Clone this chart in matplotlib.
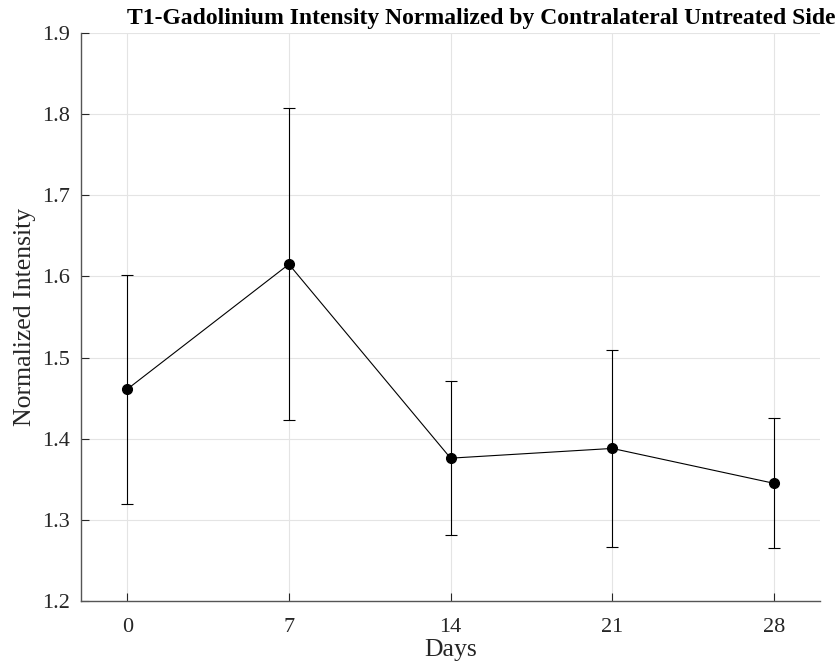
import matplotlib.pyplot as plt

days = [0, 7, 14, 21, 28]
intensity = [1.461, 1.615, 1.376, 1.388, 1.345]
err = [0.141, 0.192, 0.095, 0.121, 0.080]

plt.rcParams['font.family'] = ['Liberation Serif', 'DejaVu Serif']

fig = plt.figure(figsize=(8.38, 6.67), dpi=100)
ax = fig.add_axes([0.0967, 0.099, 0.882, 0.8515])

ax.errorbar(days, intensity, yerr=err, color='black', lw=0.8, marker='o',
            markersize=7, capsize=4, elinewidth=0.8, capthick=0.8, zorder=5)

ax.set_xlim(-2, 30)
ax.set_ylim(1.2, 1.9)
ax.set_xticks(days)
ax.set_yticks([1.2, 1.3, 1.4, 1.5, 1.6, 1.7, 1.8, 1.9])
ax.set_yticklabels(['1.2', '1.3', '1.4', '1.5', '1.6', '1.7', '1.8', '1.9'])
ax.grid(True, color='#e4e4e4', lw=0.8)
ax.set_axisbelow(True)

for s in ['top', 'right']:
    ax.spines[s].set_visible(False)
for s in ['left', 'bottom']:
    ax.spines[s].set_color('#555555')
    ax.spines[s].set_linewidth(1.0)
ax.tick_params(direction='in', length=6, width=0.8, color='#262626',
               labelsize=16, labelcolor='#262626')
ax.tick_params(axis='x', pad=12)
ax.tick_params(axis='y', pad=8)

ax.set_xlabel('Days', fontsize=18.5, labelpad=2, color='#262626')
ax.set_ylabel('Normalized Intensity', fontsize=18.5, labelpad=4, color='#262626')
fig.text(0.574, 0.964, 'T1-Gadolinium Intensity Normalized by Contralateral Untreated Side',
         fontsize=17, fontweight='bold', ha='center', va='baseline')

fig.savefig('out.png', dpi=100)
